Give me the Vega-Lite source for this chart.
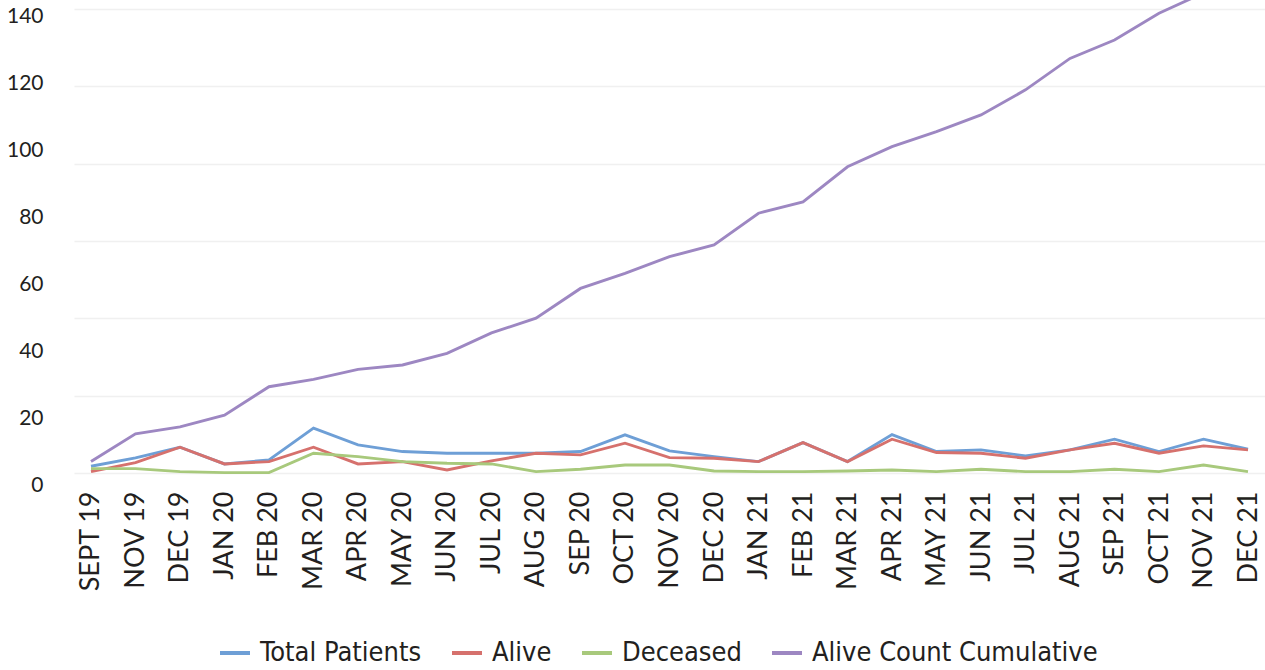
{
  "$schema": "https://vega.github.io/schema/vega-lite/v6.json",
  "width": 1191,
  "height": 485,
  "autosize": {"type": "none"},
  "padding": {"left": 74, "top": 0, "right": 0, "bottom": 185},
  "background": "white",
  "config": {"view": {"stroke": null}, "font": "Lato"},
  "datasets": {
    "rows": [
      {"m": "SEPT 19", "s": "Total Patients", "v": 5.6}, {"m": "NOV 19", "s": "Total Patients", "v": 8.1}, {"m": "DEC 19", "s": "Total Patients", "v": 11.3}, {"m": "JAN 20", "s": "Total Patients", "v": 6.3}, {"m": "FEB 20", "s": "Total Patients", "v": 7.5}, {"m": "MAR 20", "s": "Total Patients", "v": 17.0}, {"m": "APR 20", "s": "Total Patients", "v": 12.0}, {"m": "MAY 20", "s": "Total Patients", "v": 10.0}, {"m": "JUN 20", "s": "Total Patients", "v": 9.5}, {"m": "JUL 20", "s": "Total Patients", "v": 9.5}, {"m": "AUG 20", "s": "Total Patients", "v": 9.5}, {"m": "SEP 20", "s": "Total Patients", "v": 10.0}, {"m": "OCT 20", "s": "Total Patients", "v": 15.0}, {"m": "NOV 20", "s": "Total Patients", "v": 10.2}, {"m": "DEC 20", "s": "Total Patients", "v": 8.5}, {"m": "JAN 21", "s": "Total Patients", "v": 7.0}, {"m": "FEB 21", "s": "Total Patients", "v": 12.7}, {"m": "MAR 21", "s": "Total Patients", "v": 7.0}, {"m": "APR 21", "s": "Total Patients", "v": 15.1}, {"m": "MAY 21", "s": "Total Patients", "v": 10.0}, {"m": "JUN 21", "s": "Total Patients", "v": 10.5}, {"m": "JUL 21", "s": "Total Patients", "v": 8.7}, {"m": "AUG 21", "s": "Total Patients", "v": 10.5}, {"m": "SEP 21", "s": "Total Patients", "v": 13.7}, {"m": "OCT 21", "s": "Total Patients", "v": 10.0}, {"m": "NOV 21", "s": "Total Patients", "v": 13.7}, {"m": "DEC 21", "s": "Total Patients", "v": 10.7},
      {"m": "SEPT 19", "s": "Alive", "v": 4.0}, {"m": "NOV 19", "s": "Alive", "v": 6.7}, {"m": "DEC 19", "s": "Alive", "v": 11.3}, {"m": "JAN 20", "s": "Alive", "v": 6.3}, {"m": "FEB 20", "s": "Alive", "v": 7.0}, {"m": "MAR 20", "s": "Alive", "v": 11.3}, {"m": "APR 20", "s": "Alive", "v": 6.3}, {"m": "MAY 20", "s": "Alive", "v": 7.0}, {"m": "JUN 20", "s": "Alive", "v": 4.5}, {"m": "JUL 20", "s": "Alive", "v": 7.2}, {"m": "AUG 20", "s": "Alive", "v": 9.5}, {"m": "SEP 20", "s": "Alive", "v": 9.0}, {"m": "OCT 20", "s": "Alive", "v": 12.5}, {"m": "NOV 20", "s": "Alive", "v": 8.2}, {"m": "DEC 20", "s": "Alive", "v": 8.0}, {"m": "JAN 21", "s": "Alive", "v": 7.0}, {"m": "FEB 21", "s": "Alive", "v": 12.7}, {"m": "MAR 21", "s": "Alive", "v": 7.0}, {"m": "APR 21", "s": "Alive", "v": 13.7}, {"m": "MAY 21", "s": "Alive", "v": 9.7}, {"m": "JUN 21", "s": "Alive", "v": 9.5}, {"m": "JUL 21", "s": "Alive", "v": 8.0}, {"m": "AUG 21", "s": "Alive", "v": 10.5}, {"m": "SEP 21", "s": "Alive", "v": 12.5}, {"m": "OCT 21", "s": "Alive", "v": 9.5}, {"m": "NOV 21", "s": "Alive", "v": 11.7}, {"m": "DEC 21", "s": "Alive", "v": 10.5},
      {"m": "SEPT 19", "s": "Deceased", "v": 4.9}, {"m": "NOV 19", "s": "Deceased", "v": 4.9}, {"m": "DEC 19", "s": "Deceased", "v": 4.0}, {"m": "JAN 20", "s": "Deceased", "v": 3.7}, {"m": "FEB 20", "s": "Deceased", "v": 3.7}, {"m": "MAR 20", "s": "Deceased", "v": 9.5}, {"m": "APR 20", "s": "Deceased", "v": 8.5}, {"m": "MAY 20", "s": "Deceased", "v": 7.0}, {"m": "JUN 20", "s": "Deceased", "v": 6.5}, {"m": "JUL 20", "s": "Deceased", "v": 6.3}, {"m": "AUG 20", "s": "Deceased", "v": 4.0}, {"m": "SEP 20", "s": "Deceased", "v": 4.7}, {"m": "OCT 20", "s": "Deceased", "v": 6.0}, {"m": "NOV 20", "s": "Deceased", "v": 6.0}, {"m": "DEC 20", "s": "Deceased", "v": 4.2}, {"m": "JAN 21", "s": "Deceased", "v": 4.0}, {"m": "FEB 21", "s": "Deceased", "v": 4.0}, {"m": "MAR 21", "s": "Deceased", "v": 4.2}, {"m": "APR 21", "s": "Deceased", "v": 4.5}, {"m": "MAY 21", "s": "Deceased", "v": 4.0}, {"m": "JUN 21", "s": "Deceased", "v": 4.7}, {"m": "JUL 21", "s": "Deceased", "v": 4.0}, {"m": "AUG 21", "s": "Deceased", "v": 4.0}, {"m": "SEP 21", "s": "Deceased", "v": 4.7}, {"m": "OCT 21", "s": "Deceased", "v": 4.0}, {"m": "NOV 21", "s": "Deceased", "v": 6.0}, {"m": "DEC 21", "s": "Deceased", "v": 4.0},
      {"m": "SEPT 19", "s": "Alive Count Cumulative", "v": 7.0}, {"m": "NOV 19", "s": "Alive Count Cumulative", "v": 15.3}, {"m": "DEC 19", "s": "Alive Count Cumulative", "v": 17.4}, {"m": "JAN 20", "s": "Alive Count Cumulative", "v": 20.9}, {"m": "FEB 20", "s": "Alive Count Cumulative", "v": 29.4}, {"m": "MAR 20", "s": "Alive Count Cumulative", "v": 31.6}, {"m": "APR 20", "s": "Alive Count Cumulative", "v": 34.6}, {"m": "MAY 20", "s": "Alive Count Cumulative", "v": 35.9}, {"m": "JUN 20", "s": "Alive Count Cumulative", "v": 39.4}, {"m": "JUL 20", "s": "Alive Count Cumulative", "v": 45.5}, {"m": "AUG 20", "s": "Alive Count Cumulative", "v": 49.9}, {"m": "SEP 20", "s": "Alive Count Cumulative", "v": 58.8}, {"m": "OCT 20", "s": "Alive Count Cumulative", "v": 63.3}, {"m": "NOV 20", "s": "Alive Count Cumulative", "v": 68.3}, {"m": "DEC 20", "s": "Alive Count Cumulative", "v": 71.8}, {"m": "JAN 21", "s": "Alive Count Cumulative", "v": 81.3}, {"m": "FEB 21", "s": "Alive Count Cumulative", "v": 84.7}, {"m": "MAR 21", "s": "Alive Count Cumulative", "v": 95.2}, {"m": "APR 21", "s": "Alive Count Cumulative", "v": 101.2}, {"m": "MAY 21", "s": "Alive Count Cumulative", "v": 105.7}, {"m": "JUN 21", "s": "Alive Count Cumulative", "v": 110.7}, {"m": "JUL 21", "s": "Alive Count Cumulative", "v": 118.2}, {"m": "AUG 21", "s": "Alive Count Cumulative", "v": 127.6}, {"m": "SEP 21", "s": "Alive Count Cumulative", "v": 133.1}, {"m": "OCT 21", "s": "Alive Count Cumulative", "v": 141.1}, {"m": "NOV 21", "s": "Alive Count Cumulative", "v": 147.2}, {"m": "DEC 21", "s": "Alive Count Cumulative", "v": 155.0}
    ]
  },
  "data": {"name": "rows"},
  "encoding": {
    "x": {
      "field": "m",
      "type": "ordinal",
      "scale": {
        "type": "point",
        "domain": ["SEPT 19", "NOV 19", "DEC 19", "JAN 20", "FEB 20", "MAR 20", "APR 20", "MAY 20", "JUN 20", "JUL 20", "AUG 20", "SEP 20", "OCT 20", "NOV 20", "DEC 20", "JAN 21", "FEB 21", "MAR 21", "APR 21", "MAY 21", "JUN 21", "JUL 21", "AUG 21", "SEP 21", "OCT 21", "NOV 21", "DEC 21"],
        "padding": 0.382
      },
      "axis": {
        "title": null,
        "labelAngle": -90,
        "labelFont": "Lato",
        "labelFontSize": 27,
        "labelColor": "#231f20",
        "labelPadding": 6,
        "ticks": false,
        "domain": false,
        "grid": false,
        "labelOverlap": false
      }
    }
  },
  "layer": [
    {
      "mark": {"type": "line", "strokeOpacity": 0},
      "encoding": {
        "y": {
          "field": "v",
          "type": "quantitative",
          "scale": {"domain": [0, 145.08], "nice": false, "zero": false},
          "axis": {
            "orient": "left",
            "values": [3.5, 26.6, 49.9, 73.1, 95.9, 119.4, 142.3],
            "grid": true,
            "gridColor": "#f0f0f0",
            "gridWidth": 1.6,
            "labels": false,
            "ticks": false,
            "domain": false,
            "title": null
          }
        },
        "detail": {"field": "s"}
      }
    },
    {
      "mark": {"type": "line", "strokeWidth": 2.9, "clip": true},
      "encoding": {
        "y": {
          "field": "v",
          "type": "quantitative",
          "scale": {"domain": [0, 145.08], "nice": false, "zero": false},
          "axis": {
            "orient": "left",
            "values": [0, 20, 40, 60, 80, 100, 120, 140],
            "grid": false,
            "ticks": false,
            "domain": false,
            "title": null,
            "labelFont": "Lato",
            "labelFontSize": 21,
            "labelColor": "#231f20",
            "labelPadding": 31
          }
        },
        "color": {
          "field": "s",
          "type": "nominal",
          "scale": {
            "domain": ["Total Patients", "Alive", "Deceased", "Alive Count Cumulative"],
            "range": ["#6e9fd6", "#d6716d", "#a8c97c", "#9d87c2"]
          },
          "legend": {
            "orient": "none",
            "legendX": 144,
            "legendY": 636,
            "direction": "horizontal",
            "columns": 4,
            "title": null,
            "symbolType": "stroke",
            "symbolSize": 900,
            "symbolStrokeWidth": 4,
            "labelFont": "'Liberation Sans Narrow', 'DejaVu Sans Condensed', Lato",
            "labelFontSize": 27,
            "labelColor": "#231f20",
            "labelOffset": 8,
            "columnPadding": 22,
            "labelLimit": 0
          }
        }
      }
    }
  ],
  "resolve": {"axis": {"y": "independent"}}
}
